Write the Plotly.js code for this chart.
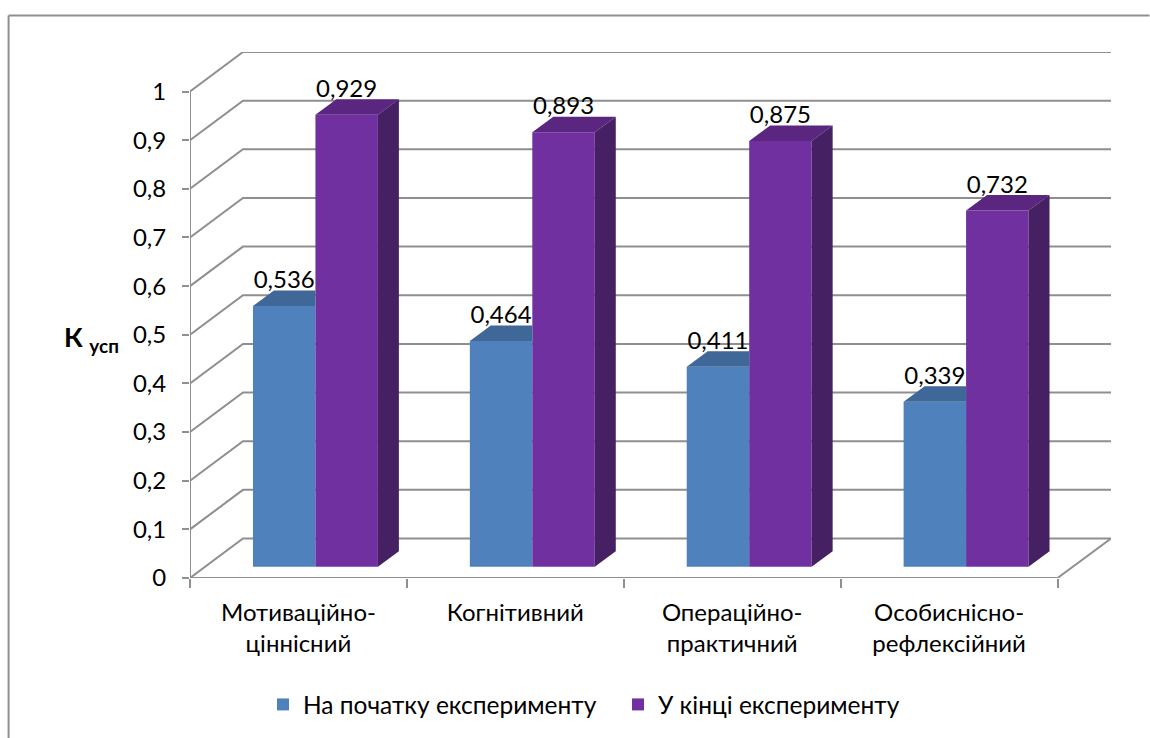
<!DOCTYPE html>
<html><head><meta charset="utf-8">
<script src="https://cdn.plot.ly/plotly-3.0.1.min.js"></script>
<style>html,body{margin:0;padding:0;background:#fff}</style></head>
<body><div id="chart" style="width:1150px;height:738px"></div>
<script>
const categories = ["Мотиваційно-<br>ціннісний","Когнітивний","Операційно-<br>практичний","Особиснісно-<br>рефлексійний"];
const startValues = [0.536,0.464,0.411,0.339];
const endValues = [0.929,0.893,0.875,0.732];
const seriesNames = ["На початку експерименту","У кінці експерименту"];
const yTicks = [0,0.1,0.2,0.3,0.4,0.5,0.6,0.7,0.8,0.9,1];
const yTickText = ["0","0,1","0,2","0,3","0,4","0,5","0,6","0,7","0,8","0,9","1"];

const FONT = "Lato, 'Noto Sans', sans-serif";
const GRAY = "#8f8f8f";
const UX = 217, UY = 486.5;                // px per axis unit
const wallDX = 53/UX, wallDY = 39.5/UY;    // wall depth
const barDX = 21/UX, barDY = 15.5/UY;      // bar depth
const baseY = 11.3/UY;                     // bar front offset
const barW = 62.5/UX, barLeft = 63/UX;
const labelDrop = 3.5/UY;
const xMax = 921.5/UX, yMax = 526/UY;

const idx = categories.map((_,i)=>i);
const x1 = idx.map(i=>i+barLeft+barW/2);
const x2 = idx.map(i=>i+barLeft+barW*1.5);
const fmt = v => v.toFixed(3).replace(".",",");

function polys(list){ // joins polygons with gaps
  const xs=[],ys=[];
  list.forEach(p=>{p.forEach(q=>{xs.push(q[0]);ys.push(q[1]);});xs.push(null);ys.push(null);});
  return {x:xs,y:ys};
}
const blueTop = polys(idx.map(i=>{
  const l=x1[i]-barW/2,r=x1[i]+barW/2,t=startValues[i]+baseY;
  return [[l,t],[l+barDX,t+barDY],[r,t+barDY],[r,t],[l,t]];
}));
const purpleTop = polys(idx.map(i=>{
  const l=x2[i]-barW/2,r=x2[i]+barW/2,t=endValues[i]+baseY;
  return [[l,t],[l+barDX,t+barDY],[r+barDX,t+barDY],[r,t],[l,t]];
}));
const purpleSide = polys(idx.map(i=>{
  const r=x2[i]+barW/2,t=endValues[i]+baseY;
  return [[r,baseY],[r+barDX,baseY+barDY],[r+barDX,t+barDY],[r,t],[r,baseY]];
}));
const face = (p,c)=>({type:"scatter",mode:"lines",x:p.x,y:p.y,fill:"toself",fillcolor:c,
  line:{width:0,color:c},showlegend:false,hoverinfo:"skip"});
const labels = (xs,vs)=>({type:"scatter",mode:"text",x:xs,y:vs.map(v=>v+baseY+barDY-labelDrop),
  text:vs.map(fmt),textposition:"top center",textfont:{family:FONT,size:24,color:"#000"},
  cliponaxis:false,showlegend:false,hoverinfo:"skip"});

const traces = [
  {type:"bar",name:seriesNames[0],x:x1,y:startValues,base:idx.map(()=>baseY),width:barW,marker:{color:"#4f81bd",line:{width:0}},hoverinfo:"skip"},
  {type:"bar",name:seriesNames[1],x:x2,y:endValues,base:idx.map(()=>baseY),width:barW,marker:{color:"#7030a0",line:{width:0}},hoverinfo:"skip"},
  face(blueTop,"#3f6797"), face(purpleTop,"#5a2680"), face(purpleSide,"#452062"),
  labels(x1,startValues), labels(x2,endValues)
];

const shapes = [];
const ln = {color:GRAY,width:2};
yTicks.forEach(v=>{
  shapes.push({type:"path",layer:"below",xref:"x",yref:"y",line:ln,
    path:`M0,${v} L${wallDX},${v+wallDY} L${xMax},${v+wallDY}`});
});
shapes.push({type:"line",layer:"below",xref:"x",yref:"y",x0:0,x1:0,y0:0,y1:1,line:ln});
shapes.push({type:"line",layer:"below",xref:"x",yref:"y",x0:0,x1:categories.length,y0:0,y1:0,line:ln});
shapes.push({type:"line",layer:"below",xref:"x",yref:"y",x0:categories.length,x1:xMax,y0:0,y1:wallDY,line:ln});
// outer frame (runs off the picture at right and bottom)
const px = v=>(v-190)/921.5, py = v=>(578-v)/526;
shapes.push({type:"line",xref:"paper",yref:"paper",x0:px(8.5),x1:px(1150),y0:py(15.5),y1:py(15.5),line:{color:GRAY,width:2}});
shapes.push({type:"line",xref:"paper",yref:"paper",x0:px(8.5),x1:px(8.5),y0:py(15.5),y1:py(738),line:{color:GRAY,width:2}});

const layout = {
  width:1150,height:738,paper_bgcolor:"#fff",plot_bgcolor:"#fff",
  margin:{l:190,r:38.5,t:52,b:160,pad:0},
  barmode:"overlay",hovermode:false,
  font:{family:FONT,size:24,color:"#000"},
  xaxis:{range:[0,xMax],showgrid:false,zeroline:false,showline:false,
    tickmode:"array",tickvals:idx.map(i=>i+0.5),ticktext:categories,ticks:"",ticklabelstandoff:18,
    tickfont:{family:FONT,size:24,color:"#000"},
    minor:{tickmode:"array",tickvals:[0,1,2,3,4],ticks:"outside",ticklen:9,tickwidth:2,tickcolor:GRAY,showgrid:false}},
  yaxis:{range:[0,yMax],showgrid:false,zeroline:false,showline:false,
    tickmode:"array",tickvals:yTicks,ticktext:yTickText,ticks:"outside",ticklen:7,tickwidth:2,tickcolor:GRAY,ticklabelstandoff:11,
    tickfont:{family:FONT,size:24,color:"#000"}},
  legend:{orientation:"h",xref:"container",yref:"container",x:263/1150,xanchor:"left",y:1-682/738,yanchor:"top",entrywidth:310,entrywidthmode:"pixels",
    font:{family:FONT,size:24.5,color:"#000"},bgcolor:"rgba(0,0,0,0)"},
  shapes:shapes,
  annotations:[{xref:"paper",yref:"paper",x:px(62),y:py(338),xanchor:"left",yanchor:"middle",showarrow:false,
    text:"<b>К <sub>усп</sub></b>",font:{family:FONT,size:27,color:"#000"}}]
};
Plotly.newPlot("chart",traces,layout,{displayModeBar:false,staticPlot:true});
</script></body></html>
